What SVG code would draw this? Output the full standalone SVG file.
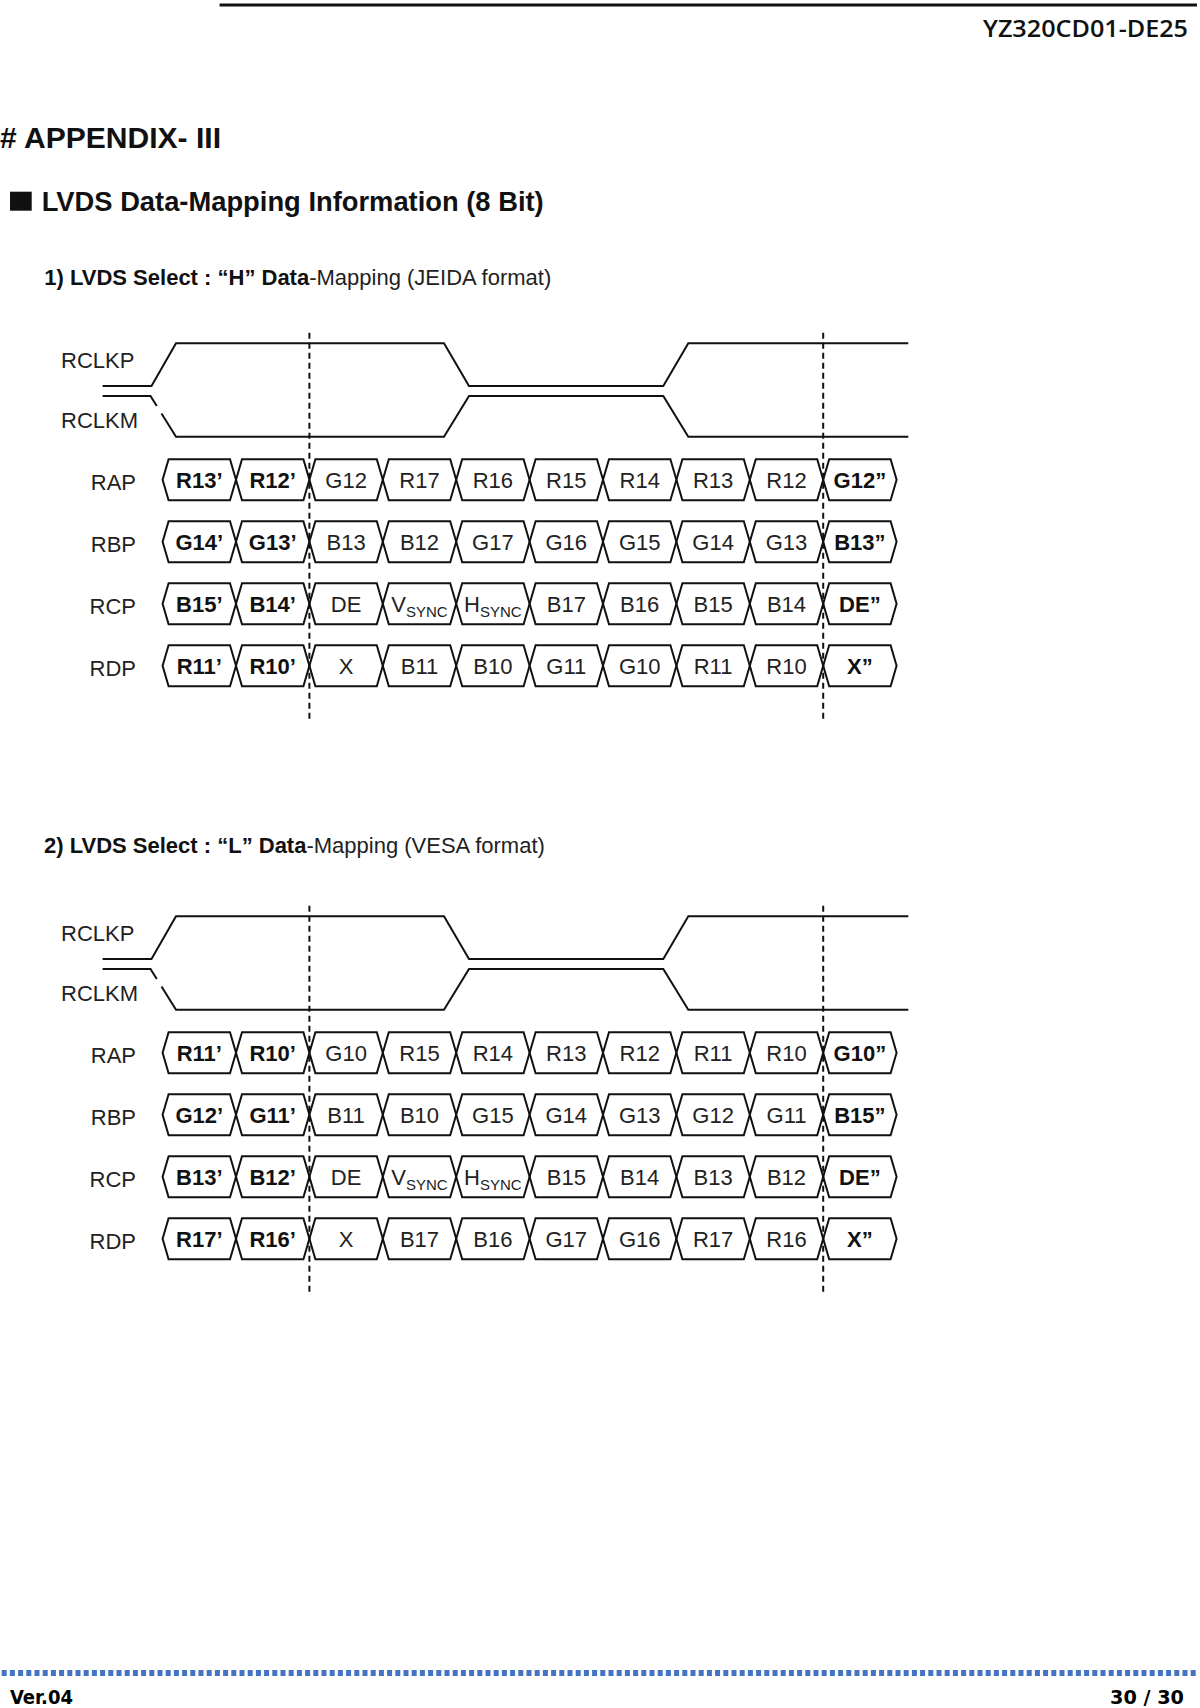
<svg xmlns="http://www.w3.org/2000/svg" xmlns:xlink="http://www.w3.org/1999/xlink" width="1200" height="1708" viewBox="0 0 1200 1708">
<style>
  .ln{fill:none;stroke:#111;stroke-width:2;stroke-linejoin:miter}
  .dash{fill:none;stroke:#111;stroke-width:2;stroke-dasharray:6 4}
  .lbl{font-family:"Liberation Sans",Arial,sans-serif;font-size:22px;fill:#222}
  .lr{font-family:"Liberation Sans",Arial,sans-serif;font-size:22px;fill:#222;text-anchor:end}
  .cr{font-family:"Liberation Sans",Arial,sans-serif;font-size:22px;fill:#222;text-anchor:middle}
  .cb{font-family:"Liberation Sans",Arial,sans-serif;font-size:22px;font-weight:bold;fill:#111;text-anchor:middle}
  .sub{font-size:15px}
  .hd{font-family:"Open Sans","Liberation Sans",sans-serif;font-weight:600;fill:#111}
  .ft{font-family:"DejaVu Sans Condensed","DejaVu Sans","Liberation Sans",sans-serif;font-weight:bold;fill:#000}
  .tb{font-family:"Liberation Sans",Arial,sans-serif;font-weight:bold;fill:#111}
  .tr{font-family:"Liberation Sans",Arial,sans-serif;font-weight:normal;fill:#222}
</style>
<defs>
  <polygon id="cell" points="0,0 6,-20.5 67.4,-20.5 73.4,0 67.4,20.5 6,20.5" class="ln"/>
</defs>
<rect width="1200" height="1708" fill="#fff"/>

<g id="header">
  <line x1="219.6" y1="5" x2="1197" y2="5" stroke="#111" stroke-width="3"/>
  <text class="hd" x="983" y="36.7" font-size="23" textLength="205" lengthAdjust="spacingAndGlyphs">YZ320CD01-DE25</text>
</g>

<g id="titles">
  <text class="tb" x="0" y="148" font-size="29" textLength="221" lengthAdjust="spacingAndGlyphs"># APPENDIX- III</text>
  <rect x="10" y="191.7" width="21.7" height="19" fill="#111"/>
  <text class="tb" x="41.7" y="210.7" font-size="27" textLength="502" lengthAdjust="spacingAndGlyphs">LVDS Data-Mapping Information (8 Bit)</text>
  <text class="tb" x="44.3" y="285" font-size="22">1) LVDS Select : “H” Data<tspan class="tr">-Mapping (JEIDA format)</tspan></text>
  <text class="tb" x="44" y="852.5" font-size="22">2) LVDS Select : “L” Data<tspan class="tr">-Mapping (VESA format)</tspan></text>
</g>

<!-- Section 1 -->
<g id="section1">
  <g id="s1-clock">
    <text class="lbl" x="61" y="368">RCLKP</text>
    <text class="lbl" x="61" y="428">RCLKM</text>
    <path class="ln" d="M102.6,386 L151.5,386 L176,343.3 L444,343.3 L469,386 L663.3,386 L688.3,343.3 L908.3,343.3"/>
    <path class="ln" d="M102.6,396 L150.5,396 L156.8,406 M161.5,413.5 L176,436.7 L444,436.7 L469,396 L663.3,396 L688.3,436.7 L908.3,436.7"/>
  </g>
  <g id="s1-rap">
    <text class="lr" x="136" y="490.3">RAP</text>
    <use xlink:href="#cell" href="#cell" x="162.6" y="479.8"/><use xlink:href="#cell" href="#cell" x="236" y="479.8"/><use xlink:href="#cell" href="#cell" x="309.4" y="479.8"/><use xlink:href="#cell" href="#cell" x="382.8" y="479.8"/><use xlink:href="#cell" href="#cell" x="456.2" y="479.8"/><use xlink:href="#cell" href="#cell" x="529.6" y="479.8"/><use xlink:href="#cell" href="#cell" x="603" y="479.8"/><use xlink:href="#cell" href="#cell" x="676.4" y="479.8"/><use xlink:href="#cell" href="#cell" x="749.8" y="479.8"/><use xlink:href="#cell" href="#cell" x="823.2" y="479.8"/>
    <text class="cb" x="199.3" y="487.8">R13’</text><text class="cb" x="272.7" y="487.8">R12’</text><text class="cr" x="346.1" y="487.8">G12</text><text class="cr" x="419.5" y="487.8">R17</text><text class="cr" x="492.9" y="487.8">R16</text><text class="cr" x="566.3" y="487.8">R15</text><text class="cr" x="639.7" y="487.8">R14</text><text class="cr" x="713.1" y="487.8">R13</text><text class="cr" x="786.5" y="487.8">R12</text><text class="cb" x="859.9" y="487.8">G12”</text>
  </g>
  <g id="s1-rbp">
    <text class="lr" x="136" y="552.3">RBP</text>
    <use xlink:href="#cell" href="#cell" x="162.6" y="541.8"/><use xlink:href="#cell" href="#cell" x="236" y="541.8"/><use xlink:href="#cell" href="#cell" x="309.4" y="541.8"/><use xlink:href="#cell" href="#cell" x="382.8" y="541.8"/><use xlink:href="#cell" href="#cell" x="456.2" y="541.8"/><use xlink:href="#cell" href="#cell" x="529.6" y="541.8"/><use xlink:href="#cell" href="#cell" x="603" y="541.8"/><use xlink:href="#cell" href="#cell" x="676.4" y="541.8"/><use xlink:href="#cell" href="#cell" x="749.8" y="541.8"/><use xlink:href="#cell" href="#cell" x="823.2" y="541.8"/>
    <text class="cb" x="199.3" y="549.8">G14’</text><text class="cb" x="272.7" y="549.8">G13’</text><text class="cr" x="346.1" y="549.8">B13</text><text class="cr" x="419.5" y="549.8">B12</text><text class="cr" x="492.9" y="549.8">G17</text><text class="cr" x="566.3" y="549.8">G16</text><text class="cr" x="639.7" y="549.8">G15</text><text class="cr" x="713.1" y="549.8">G14</text><text class="cr" x="786.5" y="549.8">G13</text><text class="cb" x="859.9" y="549.8">B13”</text>
  </g>
  <g id="s1-rcp">
    <text class="lr" x="136" y="614.3">RCP</text>
    <use xlink:href="#cell" href="#cell" x="162.6" y="603.8"/><use xlink:href="#cell" href="#cell" x="236" y="603.8"/><use xlink:href="#cell" href="#cell" x="309.4" y="603.8"/><use xlink:href="#cell" href="#cell" x="382.8" y="603.8"/><use xlink:href="#cell" href="#cell" x="456.2" y="603.8"/><use xlink:href="#cell" href="#cell" x="529.6" y="603.8"/><use xlink:href="#cell" href="#cell" x="603" y="603.8"/><use xlink:href="#cell" href="#cell" x="676.4" y="603.8"/><use xlink:href="#cell" href="#cell" x="749.8" y="603.8"/><use xlink:href="#cell" href="#cell" x="823.2" y="603.8"/>
    <text class="cb" x="199.3" y="611.8">B15’</text><text class="cb" x="272.7" y="611.8">B14’</text><text class="cr" x="346.1" y="611.8">DE</text><text class="cr" x="419.5" y="611.8">V<tspan class="sub" dy="5">SYNC</tspan></text><text class="cr" x="492.9" y="611.8">H<tspan class="sub" dy="5">SYNC</tspan></text><text class="cr" x="566.3" y="611.8">B17</text><text class="cr" x="639.7" y="611.8">B16</text><text class="cr" x="713.1" y="611.8">B15</text><text class="cr" x="786.5" y="611.8">B14</text><text class="cb" x="859.9" y="611.8">DE”</text>
  </g>
  <g id="s1-rdp">
    <text class="lr" x="136" y="676.3">RDP</text>
    <use xlink:href="#cell" href="#cell" x="162.6" y="665.8"/><use xlink:href="#cell" href="#cell" x="236" y="665.8"/><use xlink:href="#cell" href="#cell" x="309.4" y="665.8"/><use xlink:href="#cell" href="#cell" x="382.8" y="665.8"/><use xlink:href="#cell" href="#cell" x="456.2" y="665.8"/><use xlink:href="#cell" href="#cell" x="529.6" y="665.8"/><use xlink:href="#cell" href="#cell" x="603" y="665.8"/><use xlink:href="#cell" href="#cell" x="676.4" y="665.8"/><use xlink:href="#cell" href="#cell" x="749.8" y="665.8"/><use xlink:href="#cell" href="#cell" x="823.2" y="665.8"/>
    <text class="cb" x="199.3" y="673.8">R11’</text><text class="cb" x="272.7" y="673.8">R10’</text><text class="cr" x="346.1" y="673.8">X</text><text class="cr" x="419.5" y="673.8">B11</text><text class="cr" x="492.9" y="673.8">B10</text><text class="cr" x="566.3" y="673.8">G11</text><text class="cr" x="639.7" y="673.8">G10</text><text class="cr" x="713.1" y="673.8">R11</text><text class="cr" x="786.5" y="673.8">R10</text><text class="cb" x="859.9" y="673.8">X”</text>
  </g>
</g>

<!-- Section 2 -->
<g id="section2" transform="translate(0,573)">
  <g id="s2-clock">
    <text class="lbl" x="61" y="368">RCLKP</text>
    <text class="lbl" x="61" y="428">RCLKM</text>
    <path class="ln" d="M102.6,386 L151.5,386 L176,343.3 L444,343.3 L469,386 L663.3,386 L688.3,343.3 L908.3,343.3"/>
    <path class="ln" d="M102.6,396 L150.5,396 L156.8,406 M161.5,413.5 L176,436.7 L444,436.7 L469,396 L663.3,396 L688.3,436.7 L908.3,436.7"/>
  </g>
  <g id="s2-rap">
    <text class="lr" x="136" y="490.3">RAP</text>
    <use xlink:href="#cell" href="#cell" x="162.6" y="479.8"/><use xlink:href="#cell" href="#cell" x="236" y="479.8"/><use xlink:href="#cell" href="#cell" x="309.4" y="479.8"/><use xlink:href="#cell" href="#cell" x="382.8" y="479.8"/><use xlink:href="#cell" href="#cell" x="456.2" y="479.8"/><use xlink:href="#cell" href="#cell" x="529.6" y="479.8"/><use xlink:href="#cell" href="#cell" x="603" y="479.8"/><use xlink:href="#cell" href="#cell" x="676.4" y="479.8"/><use xlink:href="#cell" href="#cell" x="749.8" y="479.8"/><use xlink:href="#cell" href="#cell" x="823.2" y="479.8"/>
    <text class="cb" x="199.3" y="487.8">R11’</text><text class="cb" x="272.7" y="487.8">R10’</text><text class="cr" x="346.1" y="487.8">G10</text><text class="cr" x="419.5" y="487.8">R15</text><text class="cr" x="492.9" y="487.8">R14</text><text class="cr" x="566.3" y="487.8">R13</text><text class="cr" x="639.7" y="487.8">R12</text><text class="cr" x="713.1" y="487.8">R11</text><text class="cr" x="786.5" y="487.8">R10</text><text class="cb" x="859.9" y="487.8">G10”</text>
  </g>
  <g id="s2-rbp">
    <text class="lr" x="136" y="552.3">RBP</text>
    <use xlink:href="#cell" href="#cell" x="162.6" y="541.8"/><use xlink:href="#cell" href="#cell" x="236" y="541.8"/><use xlink:href="#cell" href="#cell" x="309.4" y="541.8"/><use xlink:href="#cell" href="#cell" x="382.8" y="541.8"/><use xlink:href="#cell" href="#cell" x="456.2" y="541.8"/><use xlink:href="#cell" href="#cell" x="529.6" y="541.8"/><use xlink:href="#cell" href="#cell" x="603" y="541.8"/><use xlink:href="#cell" href="#cell" x="676.4" y="541.8"/><use xlink:href="#cell" href="#cell" x="749.8" y="541.8"/><use xlink:href="#cell" href="#cell" x="823.2" y="541.8"/>
    <text class="cb" x="199.3" y="549.8">G12’</text><text class="cb" x="272.7" y="549.8">G11’</text><text class="cr" x="346.1" y="549.8">B11</text><text class="cr" x="419.5" y="549.8">B10</text><text class="cr" x="492.9" y="549.8">G15</text><text class="cr" x="566.3" y="549.8">G14</text><text class="cr" x="639.7" y="549.8">G13</text><text class="cr" x="713.1" y="549.8">G12</text><text class="cr" x="786.5" y="549.8">G11</text><text class="cb" x="859.9" y="549.8">B15”</text>
  </g>
  <g id="s2-rcp">
    <text class="lr" x="136" y="614.3">RCP</text>
    <use xlink:href="#cell" href="#cell" x="162.6" y="603.8"/><use xlink:href="#cell" href="#cell" x="236" y="603.8"/><use xlink:href="#cell" href="#cell" x="309.4" y="603.8"/><use xlink:href="#cell" href="#cell" x="382.8" y="603.8"/><use xlink:href="#cell" href="#cell" x="456.2" y="603.8"/><use xlink:href="#cell" href="#cell" x="529.6" y="603.8"/><use xlink:href="#cell" href="#cell" x="603" y="603.8"/><use xlink:href="#cell" href="#cell" x="676.4" y="603.8"/><use xlink:href="#cell" href="#cell" x="749.8" y="603.8"/><use xlink:href="#cell" href="#cell" x="823.2" y="603.8"/>
    <text class="cb" x="199.3" y="611.8">B13’</text><text class="cb" x="272.7" y="611.8">B12’</text><text class="cr" x="346.1" y="611.8">DE</text><text class="cr" x="419.5" y="611.8">V<tspan class="sub" dy="5">SYNC</tspan></text><text class="cr" x="492.9" y="611.8">H<tspan class="sub" dy="5">SYNC</tspan></text><text class="cr" x="566.3" y="611.8">B15</text><text class="cr" x="639.7" y="611.8">B14</text><text class="cr" x="713.1" y="611.8">B13</text><text class="cr" x="786.5" y="611.8">B12</text><text class="cb" x="859.9" y="611.8">DE”</text>
  </g>
  <g id="s2-rdp">
    <text class="lr" x="136" y="676.3">RDP</text>
    <use xlink:href="#cell" href="#cell" x="162.6" y="665.8"/><use xlink:href="#cell" href="#cell" x="236" y="665.8"/><use xlink:href="#cell" href="#cell" x="309.4" y="665.8"/><use xlink:href="#cell" href="#cell" x="382.8" y="665.8"/><use xlink:href="#cell" href="#cell" x="456.2" y="665.8"/><use xlink:href="#cell" href="#cell" x="529.6" y="665.8"/><use xlink:href="#cell" href="#cell" x="603" y="665.8"/><use xlink:href="#cell" href="#cell" x="676.4" y="665.8"/><use xlink:href="#cell" href="#cell" x="749.8" y="665.8"/><use xlink:href="#cell" href="#cell" x="823.2" y="665.8"/>
    <text class="cb" x="199.3" y="673.8">R17’</text><text class="cb" x="272.7" y="673.8">R16’</text><text class="cr" x="346.1" y="673.8">X</text><text class="cr" x="419.5" y="673.8">B17</text><text class="cr" x="492.9" y="673.8">B16</text><text class="cr" x="566.3" y="673.8">G17</text><text class="cr" x="639.7" y="673.8">G16</text><text class="cr" x="713.1" y="673.8">R17</text><text class="cr" x="786.5" y="673.8">R16</text><text class="cb" x="859.9" y="673.8">X”</text>
  </g>
</g>

<g id="connectors">
  <line class="dash" x1="309.4" y1="332.7" x2="309.4" y2="722.7"/>
  <line class="dash" x1="823.2" y1="332.7" x2="823.2" y2="722.7"/>
  <line class="dash" x1="309.4" y1="905.7" x2="309.4" y2="1295.7"/>
  <line class="dash" x1="823.2" y1="905.7" x2="823.2" y2="1295.7"/>
</g>

<g id="footer">
  <line x1="1.7" y1="1673" x2="1196" y2="1673" stroke="#4472C4" stroke-width="6" stroke-dasharray="5 3.2"/>
  <text class="ft" x="10" y="1704" font-size="20" textLength="63" lengthAdjust="spacingAndGlyphs">Ver.04</text>
  <text class="ft" x="1110" y="1704" font-size="20" textLength="74" lengthAdjust="spacingAndGlyphs">30 / 30</text>
</g>
</svg>
